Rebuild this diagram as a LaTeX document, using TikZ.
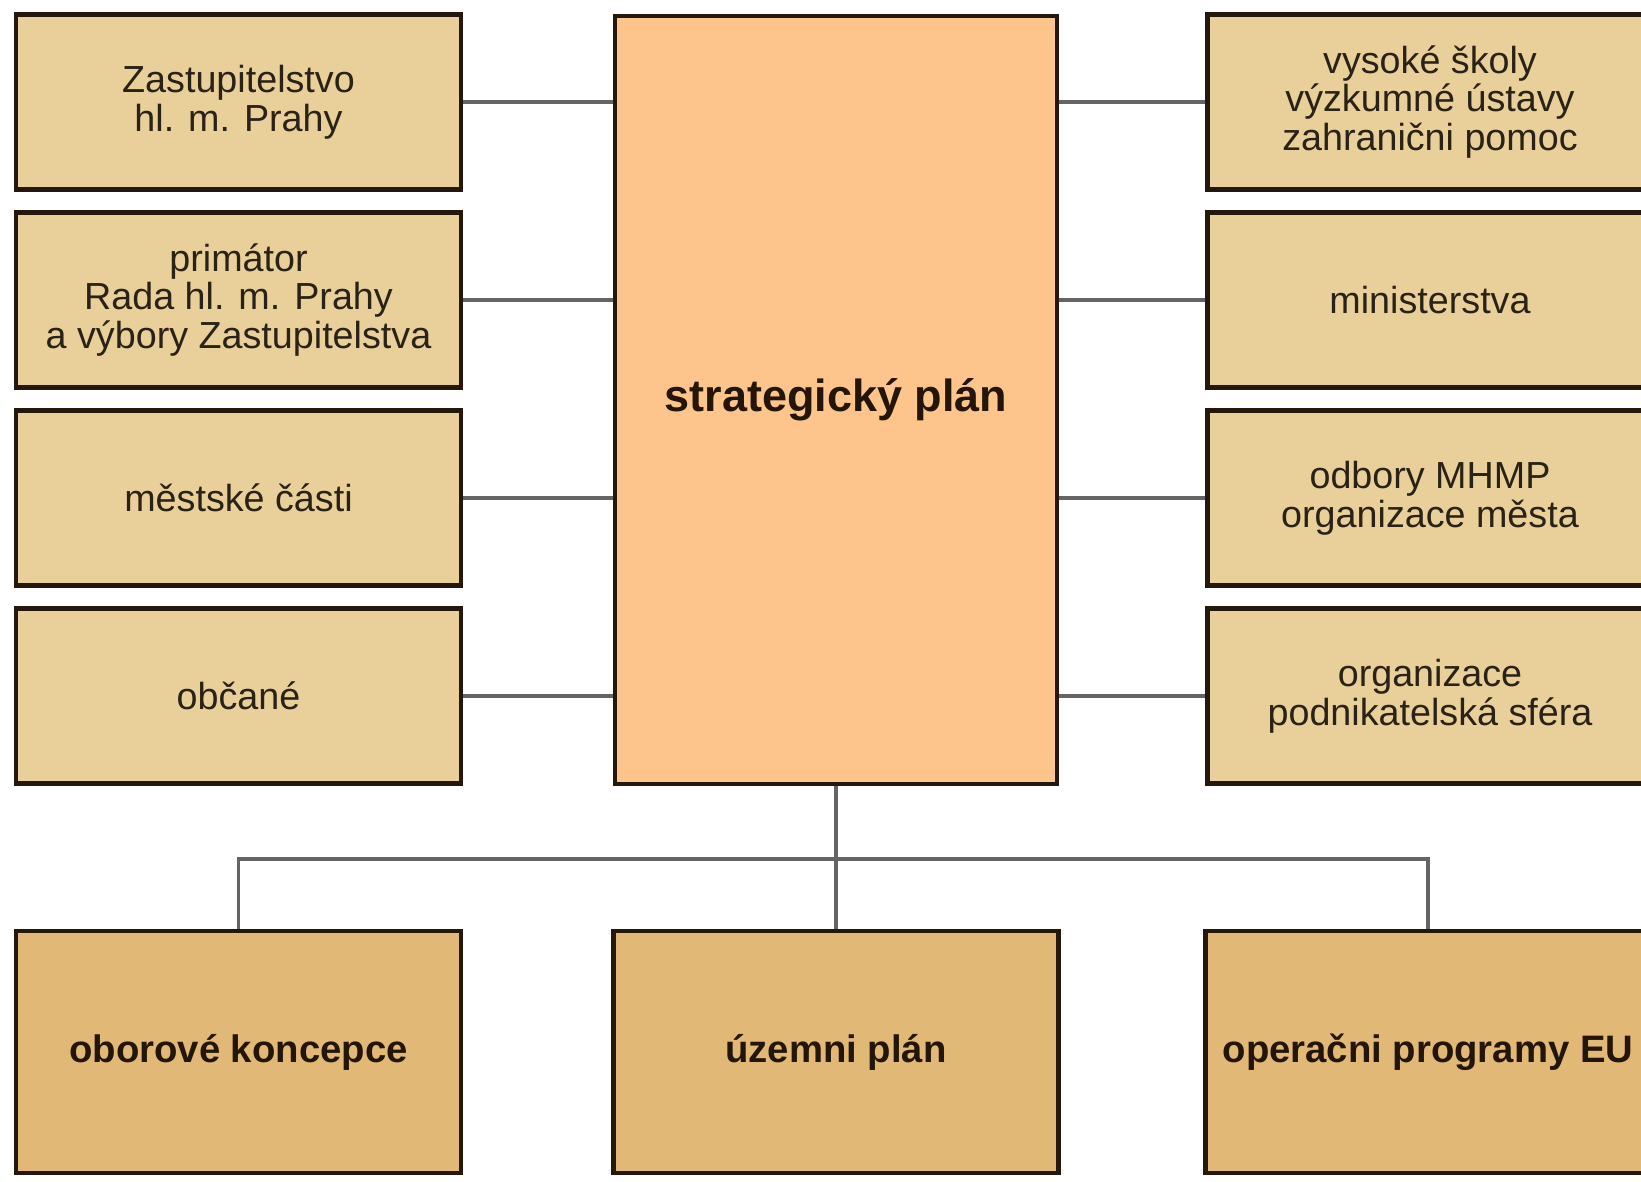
\documentclass[tikz,border=0pt]{standalone}
\usepackage{fontspec}
\setmainfont{Liberation Sans}
\definecolor{lightbox}{RGB}{233,208,155}
\definecolor{centerbox}{RGB}{253,196,140}
\definecolor{bottombox}{RGB}{225,184,118}
\definecolor{borderc}{RGB}{36,24,12}
\definecolor{linec}{RGB}{100,100,100}
\definecolor{textc}{RGB}{42,34,22}
\definecolor{boldtextc}{RGB}{35,22,8}
\begin{document}
\begin{tikzpicture}[x=1pt,y=-1pt,
  smallbox/.style={draw=borderc, line width=4.5pt, fill=lightbox,
    minimum width=445pt, minimum height=175pt, inner sep=0pt,
    align=center, text=textc, font=\fontsize{37.7}{38.5}\selectfont},
  mainbox/.style={draw=borderc, line width=4.5pt, fill=centerbox,
    minimum width=442pt, minimum height=768pt, inner sep=0pt,
    align=center, text=boldtextc, font=\bfseries\fontsize{45}{48}\selectfont},
  lowbox/.style={draw=borderc, line width=4.5pt, fill=bottombox,
    minimum width=445pt, minimum height=242pt, inner sep=0pt,
    align=center, text=boldtextc, font=\bfseries\fontsize{38.3}{42}\selectfont},
  conn/.style={draw=linec, line width=3.5pt}]
\useasboundingbox (0,0) rectangle (1641,1181);
\fill[white] (0,0) rectangle (1641,1181);
\coordinate (bus) at (836,859);
% central box
\node[mainbox] (c) at (836,400) {strategický plán};
% left boxes
\node[smallbox] (l1) at (238.5,102) {Zastupitelstvo\\hl. m. Prahy};
\node[smallbox] (l2) at (238.5,300) {primátor\\Rada hl. m. Prahy\\a výbory Zastupitelstva};
\node[smallbox] (l3) at (238.5,498) {městské části};
\node[smallbox] (l4) at (238.5,696) {občané};
% right boxes
\node[smallbox] (r1) at (1430,102) {vysoké školy\\výzkumné ústavy\\zahranični pomoc};
\node[smallbox] (r2) at (1430,300) {ministerstva};
\node[smallbox] (r3) at (1430,498) {odbory MHMP\\organizace města};
\node[smallbox] (r4) at (1430,696) {organizace\\podnikatelská sféra};
% bottom boxes
\node[lowbox] (b1) at (238.5,1052) {oborové koncepce};
\node[lowbox] (b2) at (836,1052) {územni plán};
\node[lowbox] (b3) at (1428,1052) {operačni programy EU};
% connectors
\foreach \n in {l1,l2,l3,l4}{
  \draw[conn] (\n.east) -- (\n.east -| c.west);
}
\foreach \n in {r1,r2,r3,r4}{
  \draw[conn] (c.east |- \n.west) -- (\n.west);
}
\draw[conn] (c.south) -- (b2.north);
\draw[conn] (b1.north) |- (bus) -| (b3.north);
\end{tikzpicture}
\end{document}
